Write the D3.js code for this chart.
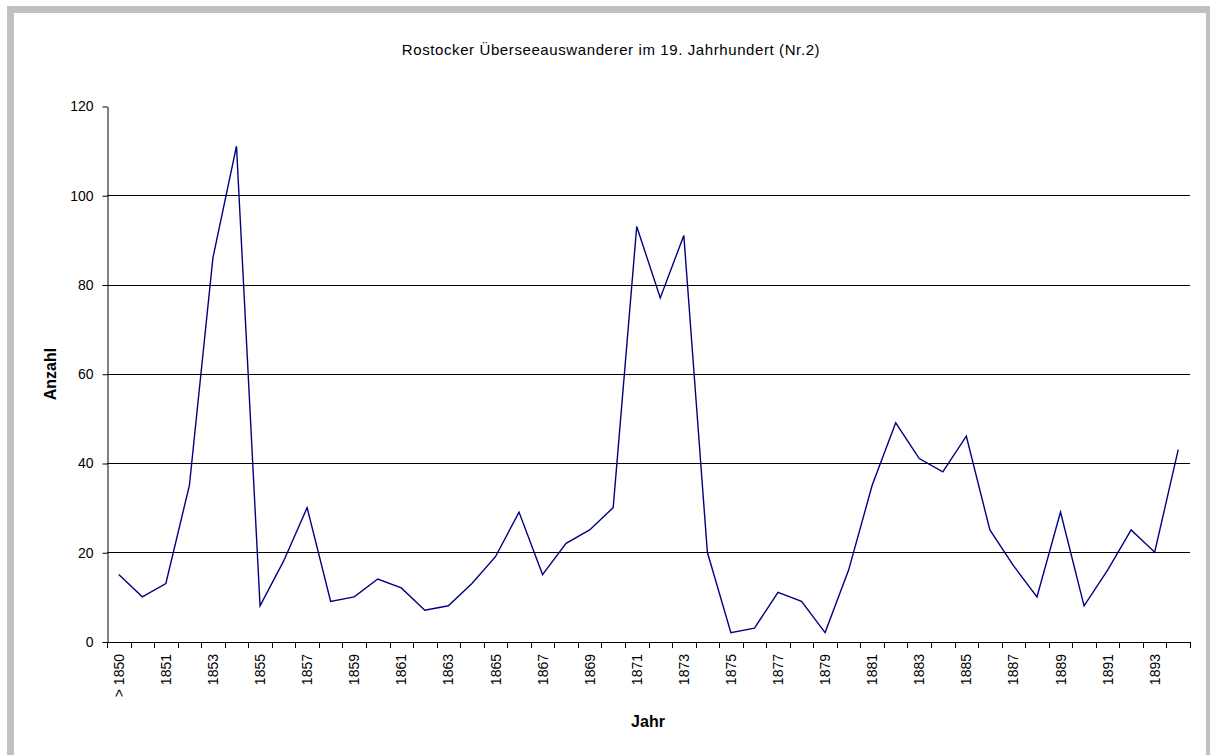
<!DOCTYPE html>
<html lang="de">
<head>
<meta charset="UTF-8">
<title>Rostocker Überseeauswanderer</title>
<script src="https://d3js.org/d3.v7.min.js"></script>
<style>
  body { margin: 0; background: #fff; }
  text { font-family: Arial, "Liberation Sans", sans-serif; fill: #000; }
</style>
</head>
<body>
<div id="chart"></div>
<script>
// categories (first one is "before 1850")
var years = ["> 1850"];
for (var yr = 1850; yr <= 1894; yr++) years.push(String(yr));

// number of emigrants per year
var anzahl = [15, 10, 13, 35, 86, 111, 8, 18, 30, 9, 10, 14, 12, 7, 8, 13, 19, 29, 15, 22,
              25, 30, 93, 77, 91, 20, 2, 3, 11, 9, 2, 16, 35, 49, 41, 38, 46, 25, 17, 10,
              29, 8, 16, 25, 20, 43];

var yTicks = [0, 20, 40, 60, 80, 100, 120];

var W = 1210, H = 755;
var plot = {left: 107, right: 1190, top: 106, bottom: 641.5};

var svg = d3.select("#chart").append("svg")
    .attr("width", W).attr("height", H);

// grey frame of the chart window
svg.append("rect").attr("x", 7).attr("y", 6).attr("width", W).attr("height", H)
    .attr("fill", "#c0c0c0");
svg.append("rect").attr("x", 14).attr("y", 13).attr("width", 1192).attr("height", H)
    .attr("fill", "#fff");

var x = d3.scaleBand().domain(years).range([plot.left, plot.right]).padding(0);
var y = d3.scaleLinear().domain([0, 120]).range([plot.bottom, plot.top]);

// horizontal gridlines
svg.append("g").selectAll("line")
    .data(yTicks.filter(function(d) { return d > 0 && d < 120; }))
    .enter().append("line")
    .attr("x1", plot.left).attr("x2", plot.right)
    .attr("y1", function(d) { return Math.round(y(d)) + 0.5; })
    .attr("y2", function(d) { return Math.round(y(d)) + 0.5; })
    .attr("stroke", "#000").attr("stroke-width", 1);

// y axis
var yAxis = svg.append("g")
    .attr("transform", "translate(" + (plot.left + 0.5) + ",0.5)")
    .call(d3.axisLeft(y).tickValues(yTicks).tickSize(5).tickSizeOuter(0));
yAxis.select(".domain").attr("stroke", "#000");
yAxis.selectAll(".tick line").attr("stroke", "#000");
yAxis.selectAll("text").attr("font-size", "14px").attr("x", -14)
    .attr("font-family", "Arial, 'Liberation Sans', sans-serif").attr("fill", "#000");

// x axis line and boundary ticks
var xg = svg.append("g");
xg.append("line").attr("x1", plot.left).attr("x2", plot.right + 1)
    .attr("y1", Math.round(plot.bottom) + 0.5).attr("y2", Math.round(plot.bottom) + 0.5)
    .attr("stroke", "#000");
var edges = years.map(function(d) { return x(d); }).concat([plot.right]);
xg.selectAll("line.tick").data(edges).enter().append("line")
    .attr("class", "tick")
    .attr("x1", function(d) { return Math.round(d) + 0.5; })
    .attr("x2", function(d) { return Math.round(d) + 0.5; })
    .attr("y1", Math.round(plot.bottom)).attr("y2", Math.round(plot.bottom) + 6)
    .attr("stroke", "#000");

// every second category label, rotated
xg.selectAll("text").data(years.filter(function(d, i) { return i % 2 === 0; }))
    .enter().append("text")
    .attr("transform", function(d) {
        return "translate(" + (x(d) + x.bandwidth() / 2) + ",654) rotate(-90)";
    })
    .attr("text-anchor", "end")
    .attr("dy", "0.36em")
    .attr("font-size", "14px")
    .text(function(d) { return d; });

// the line
svg.append("path")
    .datum(anzahl)
    .attr("fill", "none")
    .attr("stroke", "#000080")
    .attr("stroke-width", 1.4)
    .attr("stroke-linejoin", "miter")
    .attr("d", d3.line()
        .x(function(d, i) { return x(years[i]) + x.bandwidth() / 2; })
        .y(function(d) { return y(d); }));

// titles
svg.append("text").attr("x", 611).attr("y", 55).attr("text-anchor", "middle")
    .attr("font-size", "15px").attr("letter-spacing", "0.6px")
    .text("Rostocker Überseeauswanderer im 19. Jahrhundert (Nr.2)");

svg.append("text").attr("x", 648).attr("y", 727).attr("text-anchor", "middle")
    .attr("font-size", "16px").attr("font-weight", "bold")
    .text("Jahr");

svg.append("text").attr("transform", "translate(56,374) rotate(-90)")
    .attr("text-anchor", "middle")
    .attr("font-size", "16px").attr("font-weight", "bold")
    .text("Anzahl");
</script>
</body>
</html>
